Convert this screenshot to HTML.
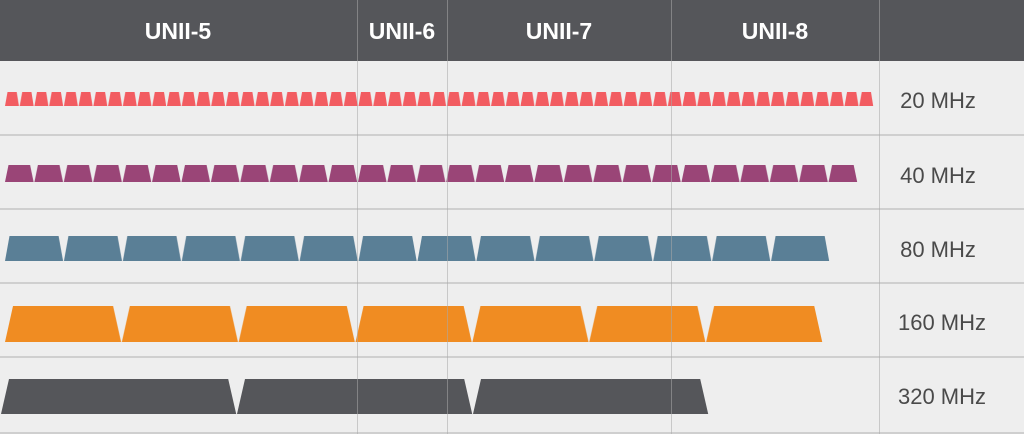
<!DOCTYPE html><html><head><style>body{margin:0;background:#eeeeee}svg{display:block}</style></head><body>
<svg width="1024" height="434" xmlns="http://www.w3.org/2000/svg" font-family="Liberation Sans, sans-serif">
<defs>
<pattern id="p1" patternUnits="userSpaceOnUse" x="5" y="92" width="14.729" height="14"><polygon points="0,14 2.5,0 11.73,0 13.93,14" fill="#f25c61"/></pattern>
<pattern id="p2" patternUnits="userSpaceOnUse" x="5" y="165" width="29.414" height="17"><polygon points="0,17 3.5,0 25.1,0 28.6,17" fill="#9a4577"/></pattern>
<pattern id="p3" patternUnits="userSpaceOnUse" x="5" y="236" width="58.93" height="25"><polygon points="0,25 4.5,0 53.6,0 58.1,25" fill="#5a7f96"/></pattern>
<pattern id="p4" patternUnits="userSpaceOnUse" x="5" y="306" width="116.857" height="36"><polygon points="0,36 8,0 108.1,0 116.1,36" fill="#f08c22"/></pattern>
<pattern id="p5" patternUnits="userSpaceOnUse" x="1" y="379" width="236" height="35"><polygon points="0,35 8,0 227.2,0 235.2,35" fill="#55565a"/></pattern>
</defs>
<rect width="1024" height="434" fill="#eeeeee"/>
<rect x="0" y="0" width="1024" height="61" fill="#55565a"/>
<g fill="#ffffff" font-weight="bold" font-size="23" text-anchor="middle">
<text x="178" y="39">UNII-5</text><text x="402" y="39">UNII-6</text><text x="559" y="39">UNII-7</text><text x="775" y="39">UNII-8</text></g>
<g stroke="#cfcfcf" stroke-width="2">
<line x1="0" y1="135" x2="1024" y2="135"/><line x1="0" y1="209" x2="1024" y2="209"/><line x1="0" y1="283" x2="1024" y2="283"/><line x1="0" y1="357" x2="1024" y2="357"/><line x1="0" y1="433" x2="1024" y2="433"/></g>
<rect x="5" y="92" width="869" height="14" fill="url(#p1)"/>
<rect x="5" y="165" width="853" height="17" fill="url(#p2)"/>
<rect x="5" y="236" width="825" height="25" fill="url(#p3)"/>
<rect x="5" y="306" width="818" height="36" fill="url(#p4)"/>
<rect x="1" y="379" width="708" height="35" fill="url(#p5)"/>
<g stroke="#aaaaaa" stroke-opacity="0.55" stroke-width="1">
<line x1="357.5" y1="0" x2="357.5" y2="434"/><line x1="447.5" y1="0" x2="447.5" y2="434"/><line x1="671.5" y1="0" x2="671.5" y2="434"/><line x1="879.5" y1="0" x2="879.5" y2="434"/></g>
<g fill="#4a4a4a" font-size="22" text-anchor="middle">
<text x="938" y="108">20 MHz</text><text x="938" y="183">40 MHz</text><text x="938" y="257">80 MHz</text><text x="942" y="330">160 MHz</text><text x="942" y="404">320 MHz</text></g>
</svg></body></html>
